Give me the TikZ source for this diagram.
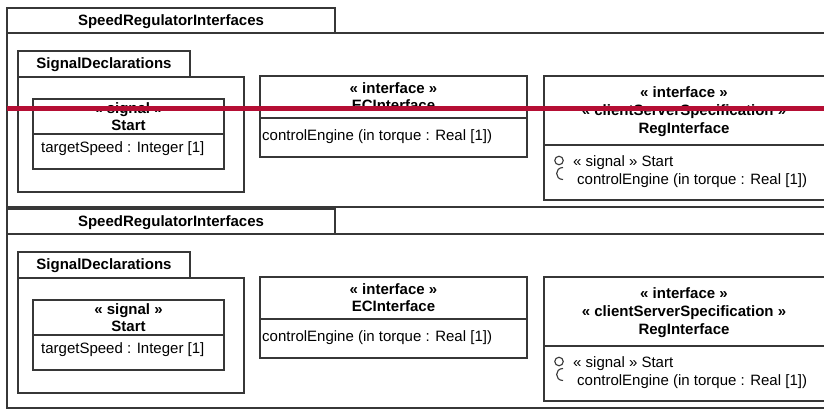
\documentclass[tikz,border=0pt]{standalone}
\usepackage{fontspec}
\setmainfont{Liberation Sans}
\definecolor{redline}{RGB}{181,14,52}
\definecolor{frameline}{RGB}{55,55,55}
\tikzset{
  boxline/.style={draw=frameline, line width=1.3pt},
  lbl/.style={anchor=base, inner sep=0pt, font=\fontsize{15}{18}\selectfont},
  ttl/.style={anchor=base, inner sep=0pt, font=\fontsize{15}{18}\selectfont\bfseries},
  lleft/.style={lbl, anchor=base west},
  provided/.style={circle, draw=frameline, line width=1.1pt, minimum size=8.5pt, inner sep=0pt},
}
\newcommand{\umlsheet}[2]{%
  \begin{scope}[yshift=-#2pt]
    % outer package frame
    \draw[boxline] (7,8) rectangle (335,33);
    \draw[boxline] (7,33) -- (830,33);
    \draw[boxline] (7,33) -- (7,207) -- (830,207);
    \node[ttl] (#1pkg) at (171,25) {SpeedRegulatorInterfaces};
    % SignalDeclarations package
    \draw[boxline] (18,51) rectangle (190,77);
    \draw[boxline] (18,77) rectangle (244,192);
    \node[ttl] (#1sigpkg) at (104,68) {SignalDeclarations};
    % Start signal
    \draw[boxline] (33,99) rectangle (224,169);
    \draw[boxline] (33,134) -- (224,134);
    \node[ttl] (#1startst) at (128.5,113) {« signal »};
    \node[ttl] (#1start) at (128.5,130) {Start};
    \node[lleft] (#1startattr) at (41,152) {targetSpeed : Integer [1]};
    % ECInterface
    \draw[boxline] (260,76) rectangle (527,157);
    \draw[boxline] (260,118) -- (527,118);
    \node[ttl] (#1ecst) at (393.5,93) {« interface »};
    \node[ttl] (#1ec) at (393.5,110) {ECInterface};
    \node[lleft] (#1ecop) at (262,140) {controlEngine (in torque : Real [1])};
    % RegInterface
    \draw[boxline] (544,76) rectangle (830,200);
    \draw[boxline] (544,145) -- (830,145);
    \node[ttl] (#1regst) at (684,97) {« interface »};
    \node[ttl] (#1regcs) at (684,115) {« clientServerSpecification »};
    \node[ttl] (#1reg) at (684,133) {RegInterface};
    \node[provided] (#1ball) at (559,160.5) {};
    \draw[frameline, line width=1.1pt] (563,167.5) .. controls (554.5,167.5) and (554.5,179.5) .. (563,179.5);
    \node[lleft] (#1regsig) at (573,166) {« signal » Start};
    \node[lleft] (#1regop) at (577,184) {controlEngine (in torque : Real [1])};
  \end{scope}%
}
\begin{document}
\begin{tikzpicture}[x=1pt, y=-1pt]
  \useasboundingbox (0,0) rectangle (824,410);
  \fill[white] (0,0) rectangle (824,410);
  \umlsheet{a}{0}
  \umlsheet{b}{201}
  \draw[redline, line width=5pt] (7,108) -- (830,108);
\end{tikzpicture}
\end{document}
